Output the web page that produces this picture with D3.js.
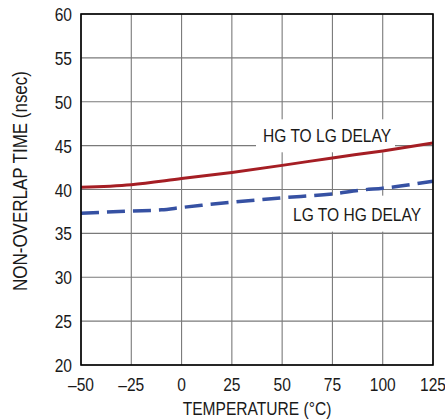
<!DOCTYPE html>
<html><head><meta charset="utf-8">
<script src="https://cdn.jsdelivr.net/npm/d3@7"></script>
<style>
html,body{margin:0;padding:0;background:#fff;}
svg{display:block;}
text{font-family:"Liberation Sans Narrow","Liberation Sans",Arial,sans-serif;fill:#1a1a1a;}
</style></head>
<body>
<svg id="chart" width="445" height="419"></svg>
<script>
const xTicks = [-50, -25, 0, 25, 50, 75, 100, 125];
const xTickLabels = ["–50", "–25", "0", "25", "50", "75", "100", "125"];
const yTicks = [20, 25, 30, 35, 40, 45, 50, 55, 60];
const hgTemps = [-50, -25, 0, 25, 50, 75, 100, 125];
const hgToLg = [40.25, 40.55, 41.25, 41.95, 42.75, 43.6, 44.4, 45.3];
const lgTemps = [-50, -25, -10, 0, 10, 25, 50, 75, 90, 100, 125];
const lgToHg = [37.29, 37.55, 37.68, 37.95, 38.2, 38.55, 39.05, 39.5, 39.95, 40.15, 40.95];
const xTitle = "TEMPERATURE (°C)";
const yTitle = "NON-OVERLAP TIME (nsec)";
const hgLabel = "HG TO LG DELAY";
const lgLabel = "LG TO HG DELAY";

const W = 445, H = 419;
const m = {left: 81, top: 14, right: 12, bottom: 54};
const svg = d3.select("#chart");
const x = d3.scaleLinear().domain([-50, 125]).range([m.left, W - m.right]);
const y = d3.scaleLinear().domain([20, 60]).range([H - m.bottom, m.top]);
const SX = 0.82, fs = 19, GRID = "#7a7a7a";

function ntext(px, py, str, anchor, rot, size, sx) {
  return svg.append("text")
    .attr("transform", `translate(${px},${py})` + (rot ? ` rotate(${rot})` : "") + ` scale(${sx || SX},1)`)
    .attr("text-anchor", anchor || "start").attr("font-size", size || fs).text(str);
}

// grid
const g = svg.append("g");
g.selectAll("line.v").data(xTicks).join("line")
  .attr("x1", d => x(d)).attr("x2", d => x(d))
  .attr("y1", y(60)).attr("y2", y(20))
  .attr("stroke", GRID).attr("stroke-width", 1.1);
g.selectAll("line.h").data(yTicks).join("line")
  .attr("y1", d => y(d)).attr("y2", d => y(d))
  .attr("x1", x(-50)).attr("x2", x(125))
  .attr("stroke", GRID).attr("stroke-width", 1.1);

// label background boxes
svg.append("rect").attr("x", 256).attr("y", y(48.0))
  .attr("width", 139).attr("height", 33).attr("fill", "#fff");
svg.append("rect").attr("x", 286).attr("y", y(39.3))
  .attr("width", 146).attr("height", 36).attr("fill", "#fff");
// the 35 gridline stays visible under the lower label
svg.append("line").attr("x1", x(50)).attr("x2", x(125))
  .attr("y1", y(35)).attr("y2", y(35))
  .attr("stroke", GRID).attr("stroke-width", 1.1);

// lines
const line = d3.line().curve(d3.curveMonotoneX);
svg.append("path")
  .attr("d", line(hgTemps.map((t, i) => [x(t), y(hgToLg[i])])))
  .attr("fill", "none").attr("stroke", "#a51e24").attr("stroke-width", 3);
svg.append("path")
  .attr("d", line(lgTemps.map((t, i) => [x(t), y(lgToHg[i])])))
  .attr("fill", "none").attr("stroke", "#3651a3").attr("stroke-width", 3.5)
  .attr("stroke-dasharray", "18,8");

// frame
svg.append("rect").attr("x", x(-50)).attr("y", y(60))
  .attr("width", x(125) - x(-50)).attr("height", y(20) - y(60))
  .attr("fill", "none").attr("stroke", "#000").attr("stroke-width", 1.6);

// tick labels
xTicks.forEach((d, i) => ntext(x(d), 390.5, xTickLabels[i], "middle"));
yTicks.forEach(d => ntext(72, y(d) + 7, String(d), "end"));

// titles
ntext(257, 415, xTitle, "middle");
ntext(27, 181, yTitle, "middle", -90, 19.5, 0.87);

// series labels
ntext(263, 142, hgLabel, "start");
ntext(293, 221, lgLabel, "start");
</script>
</body></html>
